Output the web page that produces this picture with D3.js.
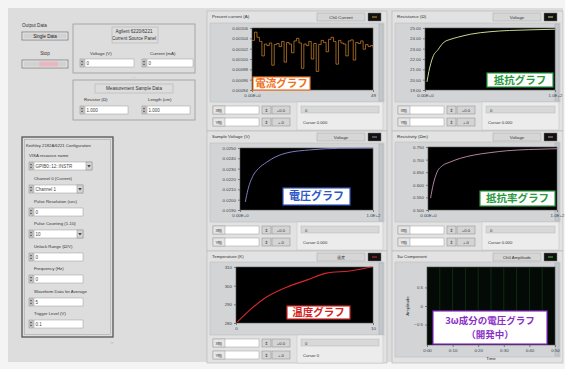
<!DOCTYPE html>
<html>
<head>
<meta charset="utf-8">
<script src="https://cdn.jsdelivr.net/npm/d3@7"></script>
<style>
  html, body { margin: 0; padding: 0; background: #fff; }
  svg { display: block; }
  text { font-family: "Liberation Sans", "DejaVu Sans", sans-serif; fill: #333; }
  .jp { font-family: "Noto Sans CJK JP", sans-serif; font-weight: 700; }
</style>
</head>
<body>
<script>
// ---- measured series ----
// current through the sample (A), one reading per sample index
const currentValues = [0.001036, 0.001052, 0.001042, 0.001034, 0.001006, 0.001029, 0.001026, 0.001031,
  0.000988, 0.001028, 0.001030, 0.001024, 0.001034, 0.000994, 0.001032, 0.001029, 0.001012, 0.001035,
  0.001040, 0.001031, 0.000982, 0.001029, 0.001026, 0.001034, 0.001000, 0.001030, 0.000976, 0.001028,
  0.001036, 0.001032, 0.001014, 0.001038, 0.001042, 0.001034, 0.000990, 0.001036, 0.001031, 0.001029,
  0.001006, 0.001035, 0.001037, 0.000998, 0.001032, 0.001030, 0.001035, 0.001019, 0.001028, 0.001024,
  0.001026, 0.001022];
const currentYTicks = [0.00094, 0.00096, 0.00098, 0.00100, 0.00102, 0.00104, 0.00106];

// resistance (Ω) against elapsed time
const resistanceTime = [1.5, 3, 6, 10, 14, 20, 25, 35, 50, 65, 80, 100];
const resistanceValues = [19.78, 20.80, 22.18, 22.90, 23.56, 23.92, 24.10, 24.40, 24.64, 24.76, 24.82, 24.88];
const resistanceYTicks = [19, 20, 21, 22, 23, 24, 25];

// sample voltage (V)
const voltageTime = [4, 6, 10, 14, 20, 27, 35, 53, 75, 100];
const voltageValues = [0.01978, 0.02098, 0.02236, 0.02302, 0.02362, 0.02416, 0.02452, 0.02482, 0.02497, 0.02499];
const voltageYTicks = [0.019, 0.020, 0.021, 0.022, 0.023, 0.024, 0.025];

// resistivity (Ωm)
const resistivityTime = [2, 4, 7, 11, 17, 25, 35, 48, 61, 78, 95, 100];
const resistivityValues = [0.5475, 0.600, 0.650, 0.675, 0.690, 0.705, 0.7175, 0.7275, 0.735, 0.740, 0.7425, 0.743];
const resistivityYTicks = [0.50, 0.55, 0.60, 0.65, 0.70, 0.75];

// temperature (K)
const temperatureTime = [0.1, 1.0, 2.2, 3.7, 5.2, 6.6, 8.3, 9.9];
const temperatureValues = [280.6, 286.9, 293.8, 299.2, 303.1, 306.7, 307.9, 310.0];
const temperatureYTicks = [280, 290, 300, 310];
const temperatureXTicks = [0, 10];

// 3ω amplitude panel axis labels
const omegaYTicks = [0.5, 0, -0.5];
const omegaXTicks = [0, 10, 20, 30, 40, 50];

// ---- drawing ----
const W = 565, H = 369;
const svg = d3.select("body").append("svg").attr("width", W).attr("height", H);

svg.append("rect").attr("x", 0).attr("y", 0).attr("width", W).attr("height", H).attr("fill", "#f4f4f4");
svg.append("rect").attr("x", 8).attr("y", 8).attr("width", 555).attr("height", 354).attr("fill", "#dddddd");

function txt(x, y, s, size, anchor, color) {
  const t = svg.append("text").attr("x", x).attr("y", y).text(s)
    .attr("font-size", size || 5).attr("text-anchor", anchor || "start");
  if (color) t.style("fill", color);
  return t;
}
function box(x, y, w, h, fill, stroke, sw) {
  return svg.append("rect").attr("x", x).attr("y", y).attr("width", w).attr("height", h)
    .attr("fill", fill || "none").attr("stroke", stroke || "none").attr("stroke-width", sw || 0.7);
}
// numeric control: increment arrows + white entry field
function numeric(x, y, w, value, dropdown) {
  box(x, y, 4, 8, "#cfcfcf", "#8a8a8a", 0.5);
  svg.append("path").attr("d", `M${x + 0.8},${y + 3.3} L${x + 2},${y + 1.3} L${x + 3.2},${y + 3.3}Z M${x + 0.8},${y + 4.7} L${x + 2},${y + 6.7} L${x + 3.2},${y + 4.7}Z`).attr("fill", "#555");
  box(x + 5, y, w - 5, 8, "#ffffff", "#9a9a9a", 0.5);
  txt(x + 6.5, y + 6, value, 4.5, "start", "#444");
  if (dropdown) {
    box(x + w - 6, y, 6, 8, "#d4d4d4", "#8a8a8a", 0.5);
    svg.append("path").attr("d", `M${x + w - 4.8},${y + 3} L${x + w - 1.2},${y + 3} L${x + w - 3},${y + 5.5}Z`).attr("fill", "#444");
  }
}
function button(x, y, w, h, label, inner) {
  box(x, y, w, h, "#d2d2d2", "#7a7a7a", 0.8);
  box(x + 1, y + 1, w - 2, h - 2, "none", "#f2f2f2", 0.5);
  if (inner) box(x + w * 0.38, y + 1.5, w * 0.4, h - 3, inner, "none");
  if (label) txt(x + w / 2, y + h / 2 + 1.8, label, 4.6, "middle", "#222");
}

// ---- left column ----
txt(22, 27, "Output Data", 4.6);
button(22, 32, 46, 8, "Single Data");
txt(45, 55, "Stop", 4.6, "middle");
button(22, 60, 46, 8, "", "#e9b7c0");

box(73, 24, 122, 49, "none", "#9a9a9a", 0.8);
txt(134, 33, "Agilent 6220/6221", 4.6, "middle");
txt(134, 40, "Current Source Panel", 4.6, "middle");
box(112, 27, 46, 16, "none", "#aaaaaa", 0.5);
txt(90, 55, "Voltage (V)", 4.4);
txt(150, 55, "Current (mA)", 4.4);
numeric(80, 59, 54, "0");
numeric(142, 59, 51, "0");
txt(134, 77.5, "- -", 4, "middle", "#888");

box(73, 80, 122, 40, "none", "#9a9a9a", 0.8);
txt(134, 90, "Measurement Sample Data", 4.6, "middle");
box(95, 84, 78, 9, "none", "#aaaaaa", 0.5);
txt(84, 101, "Resistor (Ω)", 4.4);
txt(148, 101, "Length (cm)", 4.4);
numeric(80, 106, 48, "1.000");
numeric(142, 106, 48, "1.000");

box(22, 137, 91, 200, "none", "#555555", 1.3);
box(24.5, 139.5, 86, 195, "none", "#a8a8a8", 0.6);
txt(26, 147, "Keithley 2182A/6221 Configuration", 4.2);
const cfgLabels = ["VISA resource name", "Channel 0 (Current)", "Pulse Resolution (sec)", "Pulse Counting (1-10)",
  "Unlock Range (Ω/V)", "Frequency (Hz)", "Waveform Data for Average", "Trigger Level (V)"];
const cfgValues = ["GPIB0::12::INSTR", "Channel 1", "0", "10", "0", "0", "5", "0.1"];
const cfgLabelY = [157, 180, 203, 225, 248, 270, 293, 315];
cfgLabels.forEach((l, i) => {
  txt(i === 0 ? 29 : 34, cfgLabelY[i], l, 4.3);
  numeric(29, cfgLabelY[i] + 5, i === 0 ? 63 : 54, cfgValues[i], i === 0 || i === 1 || i === 3);
});
txt(112, 344, "▫▫", 4, "middle", "#999");

// ---- graph panels ----
function panel(o) {
  // outer frame of the chart control
  box(o.fx, o.fy, o.fw, o.fh, "#e2e2e2", "#b4b4b4", 0.6);
  txt(o.fx + 5, o.fy + 7, o.title, 4.4);
  // plot legend selector + colour swatch
  box(o.fx + o.fw - 70, o.fy + 2, 48, 8, "#d6d6d6", "#a8a8a8", 0.5);
  txt(o.fx + o.fw - 46, o.fy + 7.8, o.legend, 4.3, "middle");
  box(o.fx + o.fw - 19, o.fy + 2, 13, 8, "#111111", "#777", 0.5);
  svg.append("path").attr("d", `M${o.fx + o.fw - 15},${o.fy + 6} l5,0`).attr("stroke", o.color).attr("stroke-width", 1);

  // graph area with scrollbar
  box(o.fx + 3, o.py0 - 5, o.fw - 6, o.py1 - o.py0 + 17, "#d2d4d6", "#b8b8b8", 0.5);
  box(o.fx + o.fw - 8, o.py0 - 4, 4, o.py1 - o.py0 + 15, "#c4c8cc", "#9aa0a6", 0.4);

  const x = d3.scaleLinear().domain(o.xDomain).range([o.px0, o.px1]);
  const y = d3.scaleLinear().domain(o.yDomain).range([o.py1, o.py0]);
  box(o.px0, o.py0, o.px1 - o.px0, o.py1 - o.py0, o.bg || "#000000", "#555", 0.6);

  if (o.grid) {
    svg.append("g").selectAll("line").data(o.grid).join("line")
      .attr("x1", d => x(d)).attr("x2", d => x(d)).attr("y1", o.py0).attr("y2", o.py1)
      .attr("stroke", "#173a1a").attr("stroke-width", 0.7);
  }

  const ya = svg.append("g").attr("transform", `translate(${o.px0},0)`)
    .call(d3.axisLeft(y).tickValues(o.yTicks).tickFormat(o.yFmt).tickSize(2).tickPadding(2));
  ya.select(".domain").remove();
  ya.selectAll("line").attr("stroke", "#777");
  ya.selectAll("text").attr("font-size", 4.4).attr("font-family", "Liberation Sans").style("fill", "#444");

  const xa = svg.append("g").attr("transform", `translate(0,${o.py1})`)
    .call(d3.axisBottom(x).tickValues(o.xTicks).tickFormat(o.xFmt).tickSize(2).tickPadding(2));
  xa.select(".domain").remove();
  xa.selectAll("line").attr("stroke", "#777");
  xa.selectAll("text").attr("font-size", 4.4).attr("font-family", "Liberation Sans").style("fill", "#345");

  if (o.xs) {
    const line = d3.line().x(d => x(d[0])).y(d => y(d[1]));
    svg.append("path").datum(o.xs.map((t, i) => [t, o.ys[i]]))
      .attr("d", line.curve(o.curve || d3.curveMonotoneX))
      .attr("fill", "none").attr("stroke", o.color).attr("stroke-width", o.lw || 1);
  }

  // scale / cursor controls under the graph
  if (o.controls) {
    const cx = o.fx + 6, cy = o.py1 + 16;
    ["X軸", "Y軸"].forEach((lab, i) => {
      const yy = cy + i * 12;
      box(cx, yy, 46, 8, "#ffffff", "#9a9a9a", 0.5);
      box(cx, yy, 12, 8, "#e6e6e6", "#9a9a9a", 0.5);
      txt(cx + 6, yy + 6, lab, 4.2, "middle");
      box(cx + 49, yy, 9, 8, "#d4d4d4", "#8a8a8a", 0.5);
      txt(cx + 53.5, yy + 6, "⇕", 4.5, "middle");
      box(cx + 59, yy, 18, 8, "#d4d4d4", "#8a8a8a", 0.5);
      txt(cx + 68, yy + 6, i === 0 ? "+0.0" : "+.0", 4.2, "middle");
    });
    const rx = cx + 84, rw = o.fx + o.fw - 4 - rx;
    box(rx, o.py1 + 12, rw, 28, "#ececec", "#c2c2c2", 0.5);
    box(rx + 4, o.py1 + 16, rw - 8, 7, "#d8d8d8", "#b0b0b0", 0.4);
    txt(rx + 8, o.py1 + 21.5, "0", 4.2);
    txt(rx + 6, o.py1 + 34, o.note, 4.2);
  }
  return { x, y };
}

function tag(x, y, w, h, lines, color, size, step) {
  box(x, y, w, h, "#ffffff", color, 1.2);
  const dy = step || size * 1.15;
  lines.forEach((s, i) => {
    svg.append("text").attr("class", "jp").attr("x", x + w / 2)
      .attr("y", y + h / 2 + size * 0.36 + (i - (lines.length - 1) / 2) * dy)
      .attr("text-anchor", "middle").attr("font-size", size).text(s).style("fill", color);
  });
}

const exp1 = d => d === 0 ? "0.00E+0" : "1.0E+2";

// current
panel({ fx: 207, fy: 11, fw: 180, fh: 120, title: "Present current (A)", legend: "Ch0 Current", color: "#d98a2e",
  px0: 252, px1: 373, py0: 28, py1: 90,
  xDomain: [0, currentValues.length - 1], xTicks: [0, currentValues.length - 1], xFmt: (d, i) => i === 0 ? "0.00E+0" : "49",
  yDomain: [0.00094, 0.00106], yTicks: currentYTicks, yFmt: d3.format(".5f"),
  xs: currentValues.map((v, i) => i), ys: currentValues, curve: d3.curveStepAfter, lw: 0.7,
  controls: true, note: "Cursor 0.000" });
tag(253, 77, 57, 13, ["電流グラフ"], "#f07022", 10.5);

// resistance
panel({ fx: 392, fy: 11, fw: 171, fh: 120, title: "Resistance (Ω)", legend: "Voltage", color: "#c8d890",
  px0: 425, px1: 555, py0: 28, py1: 90,
  xDomain: [0, 100], xTicks: [0, 100], xFmt: exp1,
  yDomain: [19, 25], yTicks: resistanceYTicks, yFmt: d3.format(".2f"),
  xs: resistanceTime, ys: resistanceValues, lw: 1,
  controls: true, note: "Cursor 0.000" });
tag(487, 73, 66, 14, ["抵抗グラフ"], "#2a9a3e", 10.5);

// voltage
panel({ fx: 207, fy: 131, fw: 180, fh: 120, title: "Sample Voltage (V)", legend: "Voltage", color: "#8a8ad8",
  px0: 240, px1: 373, py0: 148, py1: 210,
  xDomain: [0, 100], xTicks: [0, 100], xFmt: exp1,
  yDomain: [0.019, 0.025], yTicks: voltageYTicks, yFmt: d3.format(".4f"),
  xs: voltageTime, ys: voltageValues, lw: 0.9,
  controls: true, note: "Cursor 0.000" });
tag(283, 188, 67, 17, ["電圧グラフ"], "#2f57c8", 11);

// resistivity
panel({ fx: 392, fy: 131, fw: 171, fh: 120, title: "Resistivity (Ωm)", legend: "Voltage", color: "#c890b0",
  px0: 428, px1: 557, py0: 147, py1: 210,
  xDomain: [0, 100], xTicks: [0, 100], xFmt: exp1,
  yDomain: [0.50, 0.75], yTicks: resistivityYTicks, yFmt: d3.format(".3f"),
  xs: resistivityTime, ys: resistivityValues, lw: 0.9,
  controls: true, note: "Cursor 0.000" });
tag(480, 191, 75, 15, ["抵抗率グラフ"], "#2a9a3e", 10.5);

// temperature
panel({ fx: 207, fy: 251, fw: 180, fh: 112, title: "Temperature (K)", legend: "温度", color: "#d8282c",
  px0: 236, px1: 373, py0: 267, py1: 323,
  xDomain: [0, 10], xTicks: temperatureXTicks, xFmt: d3.format("d"),
  yDomain: [280, 310], yTicks: temperatureYTicks, yFmt: d3.format("d"),
  xs: temperatureTime, ys: temperatureValues, lw: 1.1,
  controls: true, note: "Cursor 0" });
tag(287, 306, 63, 13, ["温度グラフ"], "#d42424", 10.5);

// 3ω component (under development)
panel({ fx: 392, fy: 251, fw: 171, fh: 112, title: "3ω Component", legend: "Ch0 Amplitude", color: "#40c040",
  px0: 427, px1: 555, py0: 267, py1: 345, bg: "#040a05",
  xDomain: [0, 50], xTicks: omegaXTicks, xFmt: d => "0:" + d3.format("02d")(d),
  yDomain: [-1.05, 1.05], yTicks: omegaYTicks, yFmt: d3.format(".1~f"),
  grid: [5, 10, 15, 20, 25, 30, 35, 40, 45],
  controls: false });
svg.append("text").attr("transform", "translate(409,306) rotate(-90)").attr("text-anchor", "middle")
  .attr("font-size", 4.4).text("Amplitude");
txt(491, 360, "Time", 4.4, "middle");
tag(433, 311, 114, 33, ["3ω成分の電圧グラフ", "（開発中）"], "#8a2fc8", 9.5, 14.2);
</script>
</body>
</html>
